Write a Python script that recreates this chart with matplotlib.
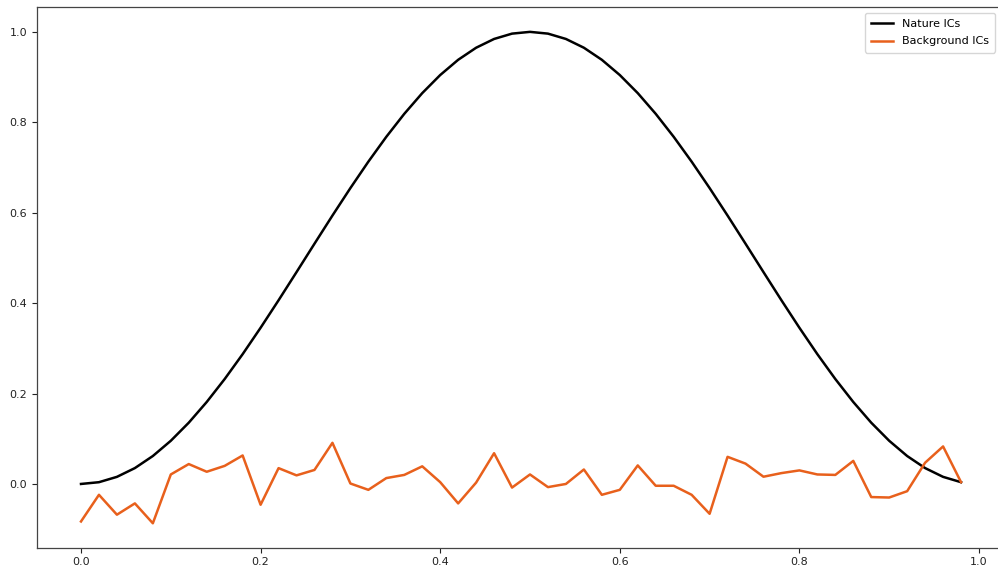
import matplotlib
matplotlib.use("Agg")
import matplotlib.pyplot as plt
import numpy as np

x_vals = [round(0.02 * i, 2) for i in range(50)]

nature_ics = [0.0, 0.0039, 0.0157, 0.0351, 0.0618, 0.0955, 0.1355, 0.1813, 0.2321, 0.2871,
              0.3455, 0.4063, 0.4686, 0.5314, 0.5937, 0.6545, 0.7129, 0.7679, 0.8187, 0.8645,
              0.9045, 0.9382, 0.9649, 0.9843, 0.9961, 1.0, 0.9961, 0.9843, 0.9649, 0.9382,
              0.9045, 0.8645, 0.8187, 0.7679, 0.7129, 0.6545, 0.5937, 0.5314, 0.4686, 0.4063,
              0.3455, 0.2871, 0.2321, 0.1813, 0.1355, 0.0955, 0.0618, 0.0351, 0.0157, 0.0039]

background_ics = [-0.083, -0.024, -0.068, -0.043, -0.087, 0.021, 0.044, 0.027, 0.040, 0.063,
                  -0.046, 0.035, 0.019, 0.031, 0.091, 0.001, -0.013, 0.013, 0.020, 0.039,
                  0.004, -0.043, 0.003, 0.068, -0.008, 0.021, -0.007, 0.000, 0.032, -0.024,
                  -0.013, 0.041, -0.004, -0.004, -0.024, -0.066, 0.060, 0.045, 0.016, 0.024,
                  0.030, 0.021, 0.020, 0.051, -0.029, -0.030, -0.016, 0.047, 0.083, 0.004]

labels = ["Nature ICs", "Background ICs"]

W, H = 998, 572
left_px, right_px, top_px, bottom_px = 36.7, 1012, 7, 547.7

fig = plt.figure(figsize=(W / 100, H / 100), dpi=100)
ax = fig.add_axes([left_px / W, 1 - bottom_px / H, (right_px - left_px) / W, (bottom_px - top_px) / H])

ax.plot(x_vals, nature_ics, color="black", linewidth=1.8, label=labels[0])
ax.plot(x_vals, background_ics, color="#E8601C", linewidth=1.8, label=labels[1])

# x: 0 at 81 px, 1.0 at 979 px
ppu = 898.0
ax.set_xlim((left_px - 81) / ppu, (right_px - 81) / ppu)
ax.set_ylim(-0.141, 1.055)

ax.set_xticks([0.0, 0.2, 0.4, 0.6, 0.8, 1.0])
ax.set_yticks([0.0, 0.2, 0.4, 0.6, 0.8, 1.0])
ax.tick_params(labelsize=8, colors="#222222", width=0.8, length=3.5)
for s in ax.spines.values():
    s.set_color("#444444")
    s.set_linewidth(0.9)

anchor_x = (1001 - left_px) / (right_px - left_px)
ax.legend(loc="upper right", fontsize=8, bbox_to_anchor=(anchor_x, 1.0), borderaxespad=0.5,
          borderpad=0.55, labelspacing=0.7, frameon=True, edgecolor="#cccccc")

fig.savefig("out.png", dpi=100)
